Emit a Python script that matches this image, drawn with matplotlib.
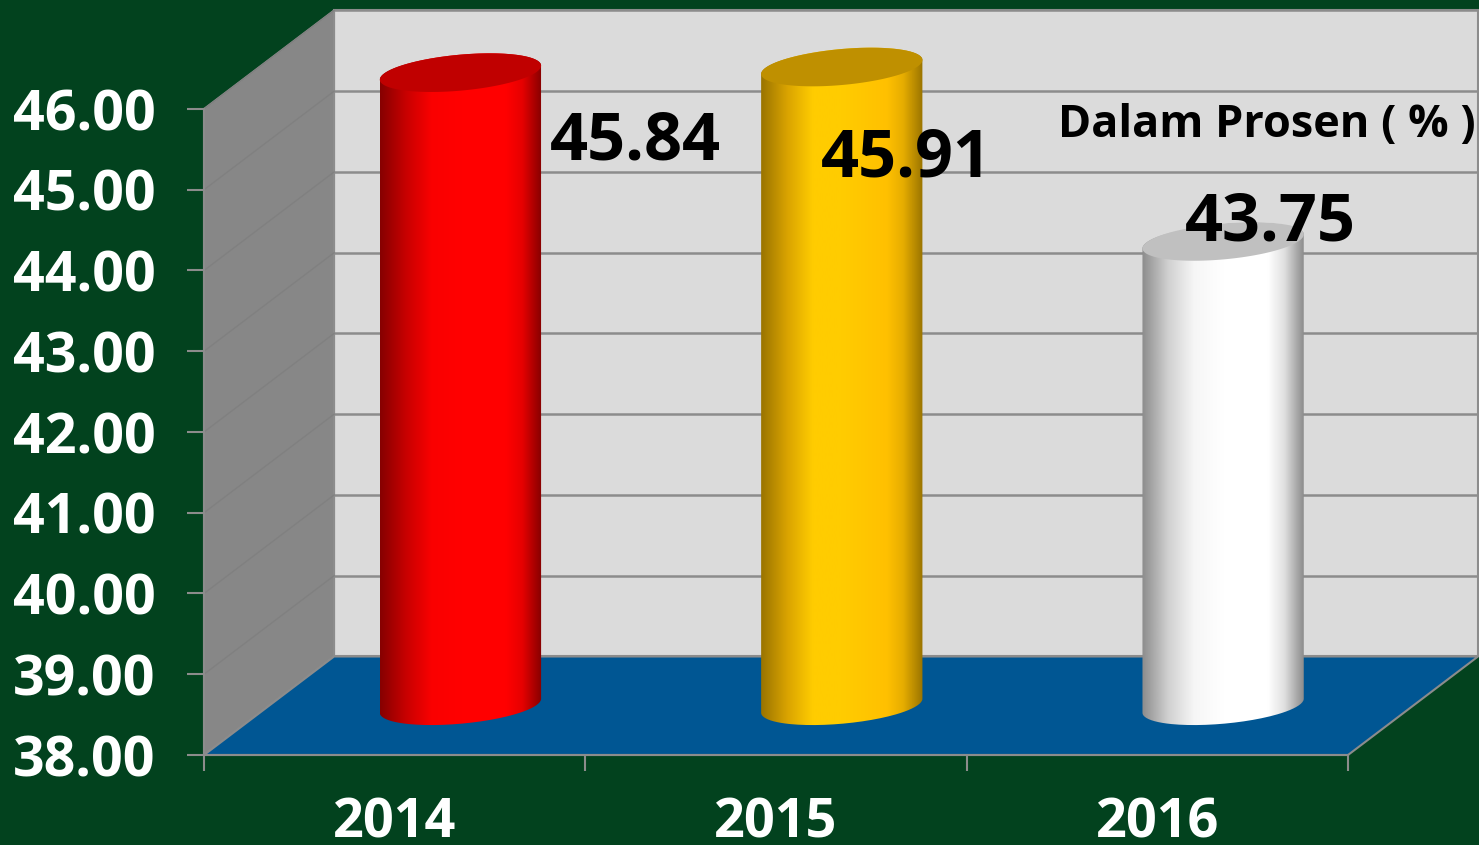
import numpy as np
import matplotlib
matplotlib.use("Agg")
import matplotlib.pyplot as plt
from matplotlib.colors import LinearSegmentedColormap
from matplotlib.patches import PathPatch, Polygon
from matplotlib.path import Path

plt.rcParams['font.family'] = ['Open Sans', 'DejaVu Sans']
plt.rcParams['font.weight'] = 'bold'

# data
years = ['2014', '2015', '2016']
values = [45.84, 45.91, 43.75]
y_ticks = [38, 39, 40, 41, 42, 43, 44, 45, 46]

# colours
BG = '#02421e'
WALL_BACK = '#dbdbdb'
WALL_LEFT = '#878787'
FLOOR = '#005693'
LINE = '#8c8c8c'
bar_stops = [
    ['#860000', '#c80000', '#fa0000', '#ff0000', '#ff0000', '#e60000', '#860000'],
    ['#9a7400', '#d9a300', '#ffcc00', '#ffcc00', '#ffc000', '#e6ad00', '#9a7400'],
    ['#8c8c8c', '#d0d0d0', '#f6f6f6', '#ffffff', '#ffffff', '#e0e0e0', '#8c8c8c'],
]
stop_pos = [0, 0.16, 0.32, 0.5, 0.78, 0.88, 1]
bar_tops = ['#c00000', '#bf9000', '#c0c0c0']

# 3d look, in axis units
DEPTH_X = 0.341
DEPTH_Y = 1.22
CYL_SHIFT = 0.002
CYL_RX = 0.2115
CYL_RY = 0.223
CYL_TILT = 0.087

W, H = 1479, 845
fig = plt.figure(figsize=((W + 0.01) / 100, (H + 0.01) / 100), dpi=100, facecolor=BG)
ax = fig.add_axes([204 / W, (H - 755) / H, 1144 / W, 646 / H])
ax.patch.set_visible(False)

x0, x1 = -0.5, 2.5
y0, y1 = y_ticks[0], y_ticks[-1]


def wall(points, color, z):
    ax.add_patch(Polygon(points, closed=True, fc=color, ec=LINE, lw=1.5,
                         clip_on=False, zorder=z))


# walls and floor
wall([(x0 + DEPTH_X, y0 + DEPTH_Y), (x1 + DEPTH_X, y0 + DEPTH_Y),
      (x1 + DEPTH_X, y1 + DEPTH_Y), (x0 + DEPTH_X, y1 + DEPTH_Y)], WALL_BACK, 1)
wall([(x0, y0), (x0 + DEPTH_X, y0 + DEPTH_Y),
      (x0 + DEPTH_X, y1 + DEPTH_Y), (x0, y1)], WALL_LEFT, 1)
wall([(x0, y0), (x1, y0), (x1 + DEPTH_X, y0 + DEPTH_Y),
      (x0 + DEPTH_X, y0 + DEPTH_Y)], FLOOR, 1.5)

# gridlines on both walls
for t in y_ticks[1:]:
    ax.plot([x0 + DEPTH_X, x1 + DEPTH_X], [t + DEPTH_Y, t + DEPTH_Y],
            color=LINE, lw=1.8, clip_on=False, zorder=1.2)
    ax.plot([x0, x0 + DEPTH_X], [t, t + DEPTH_Y],
            color='#808080', lw=1, clip_on=False, zorder=1.2)


def ellipse_pts(cx, cy, t):
    return cx + CYL_RX * np.cos(t), cy + CYL_RY * np.sin(t) + CYL_TILT * np.cos(t)


# cylinders
for i, v in enumerate(values):
    cx = i + DEPTH_X / 2 + CYL_SHIFT
    base = y0 + DEPTH_Y / 2
    top = v + DEPTH_Y / 2

    bx, by = ellipse_pts(cx, base, np.linspace(np.pi, 2 * np.pi, 80))
    tx, ty = ellipse_pts(cx, top, np.linspace(0, np.pi, 80))
    side = PathPatch(Path(np.column_stack([np.r_[bx, tx], np.r_[by, ty]])),
                     fc='none', ec='none', clip_on=False, zorder=2)
    ax.add_patch(side)

    cmap = LinearSegmentedColormap.from_list('cyl', list(zip(stop_pos, bar_stops[i])))
    grad = np.linspace(0, 1, 256).reshape(1, -1)
    im = ax.imshow(grad, cmap=cmap, aspect='auto', interpolation='bilinear',
                   extent=[cx - CYL_RX, cx + CYL_RX, base - 1, top + 1], zorder=2)
    im.set_clip_path(side)
    im.set_clip_box(fig.bbox)

    ex, ey = ellipse_pts(cx, top, np.linspace(0, 2 * np.pi, 160))
    ax.add_patch(Polygon(np.column_stack([ex, ey]), closed=True, fc=bar_tops[i],
                         ec='none', clip_on=False, zorder=2.1))

ax.set_xlim(x0, x1)
ax.set_ylim(y0, y1)

# axes
for name in ['top', 'right']:
    ax.spines[name].set_visible(False)
for name in ['left', 'bottom']:
    ax.spines[name].set_color(LINE)
    ax.spines[name].set_linewidth(1.5)
    ax.spines[name].set_zorder(3)

ax.set_yticks(y_ticks)
ax.set_yticklabels(['%.2f' % t for t in y_ticks])
ax.tick_params(axis='y', length=12, width=1.5, color=LINE, pad=23,
               labelsize=40, labelcolor='white')
ax.set_xticks([-0.5, 0.5, 1.5, 2.5])
ax.set_xticklabels([])
ax.tick_params(axis='x', length=11.5, width=1.5, color=LINE)
ax.set_xticks(range(len(years)), years, minor=True)
ax.tick_params(axis='x', which='minor', length=0, pad=30,
               labelsize=39, labelcolor='white')

# value labels
label_px = [(635, 142), (906, 159), (1270, 223)]
for v, (px, py) in zip(values, label_px):
    fig.text(px / W, 1 - py / H, '%.2f' % v, fontsize=48, color='black',
             ha='center', va='center', zorder=5)

fig.text(1267 / W, 1 - 125 / H, 'Dalam Prosen ( % )', fontsize=32.4, color='black',
         ha='center', va='center', zorder=5)

fig.savefig('out.png', dpi=100, facecolor=BG)
